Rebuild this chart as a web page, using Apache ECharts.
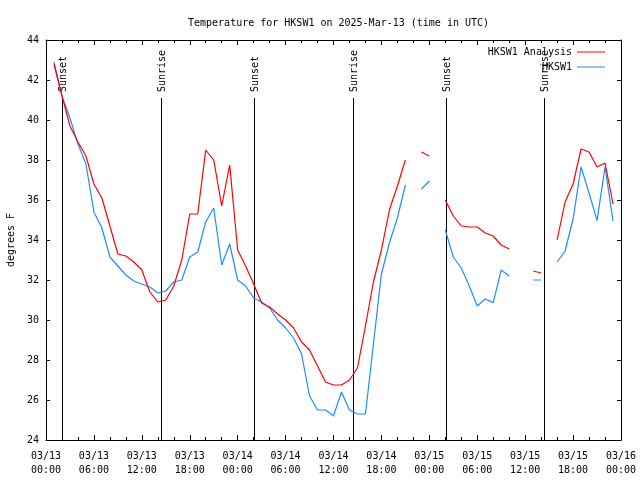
<!DOCTYPE html>
<html>
<head>
<meta charset="utf-8">
<script src="https://cdn.jsdelivr.net/npm/echarts@6/dist/echarts.min.js"></script>
<style>html,body{margin:0;padding:0;background:#fff}#c{width:640px;height:480px}</style>
</head>
<body>
<div id="c"></div>
<script>
// hours since 2025-03-13 00:00 UTC
const hours = [1,2,3,4,5,6,7,8,9,10,11,12,13,14,15,16,17,18,19,20,21,22,23,24,25,26,27,28,29,30,31,32,33,34,35,36,37,38,39,40,41,42,43,44,45,46,47,48,49,50,51,52,53,54,55,56,57,58,59,60,61,62,63,64,65,66,67,68,69,70,71];
const analysis = [42.8,41.2,39.7,38.9,38.2,36.8,36.1,34.7,33.3,33.2,32.9,32.5,31.4,30.9,31.0,31.7,33.0,35.3,35.3,38.5,38.0,35.7,37.75,33.5,32.7,31.8,30.85,30.65,30.3,30.0,29.6,28.9,28.5,27.7,26.9,26.75,26.75,27.0,27.6,29.7,31.9,33.5,35.5,36.7,38.0,null,38.4,38.2,null,36.0,35.2,34.7,34.65,34.65,34.35,34.2,33.75,33.55,null,null,32.45,32.35,null,34.0,35.9,36.8,38.55,38.4,37.65,37.85,35.8];
const observed = [42.9,41.2,40.1,38.8,37.8,35.4,34.6,33.15,32.7,32.25,31.95,31.8,31.65,31.35,31.45,31.9,32.0,33.15,33.4,34.9,35.6,32.75,33.8,32.0,31.7,31.1,30.9,30.6,30.0,29.6,29.1,28.3,26.2,25.5,25.5,25.2,26.4,25.5,25.3,25.3,28.8,32.3,33.85,35.1,36.75,null,36.55,36.95,null,34.5,33.15,32.6,31.7,30.7,31.05,30.87,32.5,32.2,null,null,32.0,32.0,null,32.9,33.45,35.05,37.65,36.35,34.97,37.65,34.95];
const sunTimes = [2.0,14.4,26.05,38.45,50.1,62.4];
const sunNames = ['Sunset','Sunrise','Sunset','Sunrise','Sunset','Sunrise'];
const xTickLabels = ['03/13\n00:00','03/13\n06:00','03/13\n12:00','03/13\n18:00','03/14\n00:00','03/14\n06:00','03/14\n12:00','03/14\n18:00','03/15\n00:00','03/15\n06:00','03/15\n12:00','03/15\n18:00','03/16\n00:00'];
const seriesNames = ['HKSW1 Analysis','HKSW1'];
const titleText = 'Temperature for HKSW1 on 2025-Mar-13 (time in UTC)';
const yName = 'degrees F';

const FONT = 'DejaVu Sans Mono';
const chart = echarts.init(document.getElementById('c'), null, {renderer:'canvas'});
const tickCommon = {show:true, inside:true, length:5, lineStyle:{color:'#000', width:1}};
const minorCommon = {show:true, splitNumber:3, length:3, lineStyle:{color:'#000', width:1}};
const axisLineCommon = {show:true, onZero:false, lineStyle:{color:'#000', width:1}};
const legendCommon = {right:30, align:'right', icon:'rect', itemWidth:28, itemHeight:1, itemGap:0,
  textStyle:{fontFamily:FONT, fontSize:10, color:'#000'}};
chart.setOption({
  animation:false,
  backgroundColor:'#fff',
  title:{text:titleText, left:183, top:13, textStyle:{fontFamily:FONT, fontSize:10, fontWeight:'normal', color:'#000'}},
  legend:[
    Object.assign({data:[seriesNames[0]], top:42}, legendCommon),
    Object.assign({data:[seriesNames[1]], top:57}, legendCommon)
  ],
  grid:{left:46, right:19, top:40, bottom:40, containLabel:false, outerBoundsMode:'none'},
  xAxis:[
    {type:'value', min:0, max:72, interval:6, position:'bottom',
     axisLine:axisLineCommon, axisTick:tickCommon, minorTick:minorCommon, splitLine:{show:false},
     axisLabel:{show:true, margin:9, fontFamily:FONT, fontSize:10, color:'#000', lineHeight:14,
       formatter:function(v){return xTickLabels[Math.round(v/6)];}}},
    {type:'value', min:0, max:72, interval:6, position:'top',
     axisLine:axisLineCommon, axisTick:tickCommon, minorTick:minorCommon, splitLine:{show:false},
     axisLabel:{show:false}}
  ],
  yAxis:[
    {type:'value', min:24, max:44, interval:2, position:'left', name:yName, nameLocation:'middle', nameGap:30,
     nameTextStyle:{fontFamily:FONT, fontSize:10, color:'#000'},
     axisLine:axisLineCommon, axisTick:Object.assign({}, tickCommon, {length:4}), splitLine:{show:false},
     axisLabel:{margin:7, fontFamily:FONT, fontSize:10, color:'#000'}},
    {type:'value', min:24, max:44, interval:2, position:'right',
     axisLine:axisLineCommon, axisTick:Object.assign({}, tickCommon, {length:4}), splitLine:{show:false},
     axisLabel:{show:false}}
  ],
  series:[
    {name:'sun', type:'custom', xAxisIndex:0, yAxisIndex:0, silent:true, z:1,
     data:sunTimes.map(t=>[t]),
     renderItem:function(params, api){
       const x = api.value(0);
       const bottom = api.coord([x, 24]);
       const top = api.coord([x, 41.1]);
       const px = Math.round(bottom[0]) + 0.5;
       return {type:'group', children:[
         {type:'line', shape:{x1:px, y1:bottom[1], x2:px, y2:top[1]},
          style:{stroke:'#000', lineWidth:1}},
         {type:'text', x:px + 0.5, y:top[1]-6, rotation:Math.PI/2,
          style:{text:sunNames[params.dataIndex], fill:'#000', font:'10px "DejaVu Sans Mono"', align:'left', verticalAlign:'middle'}}
       ]};
     }},
    {name:seriesNames[0], type:'line', xAxisIndex:0, yAxisIndex:0, z:3,
     data:hours.map((h,i)=>[h, analysis[i]]), showSymbol:false, symbol:'none', connectNulls:false,
     lineStyle:{color:'#ff0000', width:1.2}, itemStyle:{color:'#ff0000'}},
    {name:seriesNames[1], type:'line', xAxisIndex:0, yAxisIndex:0, z:2,
     data:hours.map((h,i)=>[h, observed[i]]), showSymbol:false, symbol:'none', connectNulls:false,
     lineStyle:{color:'#1e8cff', width:1.2}, itemStyle:{color:'#1e8cff'}}
  ]
});
</script>
</body>
</html>
